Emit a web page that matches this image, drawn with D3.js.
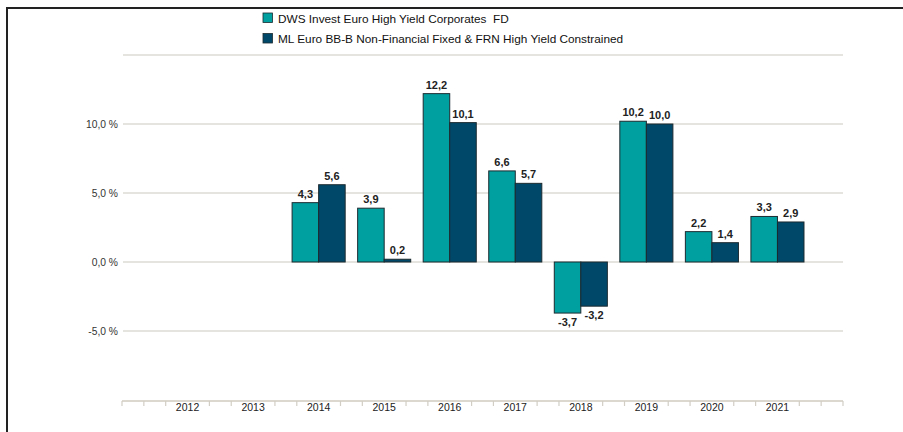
<!DOCTYPE html>
<html>
<head>
<meta charset="utf-8">
<script src="https://cdn.jsdelivr.net/npm/d3@7"></script>
<style>
  body { margin: 0; background: #fff; }
  svg { display: block; font-family: "Liberation Sans", Arial, sans-serif; }
</style>
</head>
<body>
<svg id="chart" width="903" height="432"></svg>
<script>
// chart data
const years = ["2012", "2013", "2014", "2015", "2016", "2017", "2018", "2019", "2020", "2021"];
const fundValues = [null, null, 4.3, 3.9, 12.2, 6.6, -3.7, 10.2, 2.2, 3.3];
const benchValues = [null, null, 5.6, 0.2, 10.1, 5.7, -3.2, 10.0, 1.4, 2.9];
const seriesNames = ["DWS Invest Euro High Yield Corporates  FD", "ML Euro BB-B Non-Financial Fixed & FRN High Yield Constrained"];
const seriesColors = ["#00a0a0", "#00486a"];
const yTicks = [-5, 0, 5, 10, 15];

const svg = d3.select("#chart");
const fmt = v => v.toFixed(1).replace(".", ",");

const left = 122, right = 843;
const y = d3.scaleLinear().domain([-10, 15]).range([400, 55]);

// linear position of years, one empty slot at each end
const xLin = d3.scaleLinear().domain([2011, 2022]).range([left, right]);
const x = d3.scaleBand().domain(years).range([xLin(2011.5), xLin(2021.5)]);
const xSub = d3.scaleBand().domain([0, 1]).range([0, x.bandwidth()]).paddingOuter(0.235);

// frame
svg.append("path")
    .attr("d", `M7,432 V8 H903`)
    .attr("fill", "none")
    .attr("stroke", "#222")
    .attr("stroke-width", 2);

// gridlines + y labels
svg.append("g").selectAll("line")
    .data(yTicks)
    .join("line")
    .attr("x1", left + 1).attr("x2", right)
    .attr("y1", d => y(d)).attr("y2", d => y(d))
    .attr("stroke", "#dedbd4")
    .attr("stroke-width", 1.5);

svg.append("g").selectAll("text")
    .data(yTicks.filter(d => d < 15))
    .join("text")
    .attr("x", 118)
    .attr("y", d => y(d) + 4)
    .attr("text-anchor", "end")
    .attr("font-size", 10.3)
    .attr("fill", "#333")
    .text(d => fmt(d) + " %");

// bars
const series = [fundValues, benchValues];
series.forEach((vals, si) => {
    const g = svg.append("g");
    const data = years.map((yr, i) => ({ yr, v: vals[i] })).filter(d => d.v !== null);
    g.selectAll("rect")
        .data(data)
        .join("rect")
        .attr("x", d => x(d.yr) + xSub(si))
        .attr("width", xSub.bandwidth())
        .attr("y", d => y(Math.max(0, d.v)))
        .attr("height", d => Math.abs(y(d.v) - y(0)))
        .attr("fill", seriesColors[si])
        .attr("stroke", "#1c2b30")
        .attr("stroke-width", 1);
    g.selectAll("text")
        .data(data)
        .join("text")
        .attr("x", d => x(d.yr) + xSub(si) + xSub.bandwidth() / 2)
        .attr("y", d => d.v >= 0 ? y(d.v) - 5 : y(d.v) + 13)
        .attr("text-anchor", "middle")
        .attr("font-size", 11)
        .attr("font-weight", "bold")
        .attr("fill", "#222")
        .text(d => fmt(d.v));
});

// category axis
const axisY = 401;
svg.append("line")
    .attr("x1", left).attr("x2", right)
    .attr("y1", axisY).attr("y2", axisY)
    .attr("stroke", "#dcd8cf")
    .attr("stroke-width", 2);

const minorTicks = d3.range(0, 34).map(i => 2011 + i / 3)
    .filter((t, i) => !(i % 3 === 0 && i > 0 && i < 33));
svg.append("g").selectAll("line")
    .data(minorTicks)
    .join("line")
    .attr("x1", d => xLin(d)).attr("x2", d => xLin(d))
    .attr("y1", axisY).attr("y2", axisY + 5)
    .attr("stroke", "#d2cec5")
    .attr("stroke-width", 1.2);

svg.append("g").selectAll("text")
    .data(years)
    .join("text")
    .attr("x", d => x(d) + x.bandwidth() / 2)
    .attr("y", axisY + 10)
    .attr("text-anchor", "middle")
    .attr("font-size", 10.5)
    .attr("fill", "#222")
    .text(d => d);

// legend
const legend = svg.append("g").attr("transform", "translate(263,13)");
seriesNames.forEach((name, i) => {
    const row = legend.append("g").attr("transform", `translate(0,${i * 20.5})`);
    row.append("rect")
        .attr("width", 9.5).attr("height", 9.5)
        .attr("fill", seriesColors[i])
        .attr("stroke", "#1c2b30")
        .attr("stroke-width", 0.8);
    row.append("text")
        .attr("x", 15).attr("y", 9.5)
        .attr("font-size", 11.8)
        .attr("fill", "#111")
        .style("white-space", "pre")
        .text(name);
});
</script>
</body>
</html>
